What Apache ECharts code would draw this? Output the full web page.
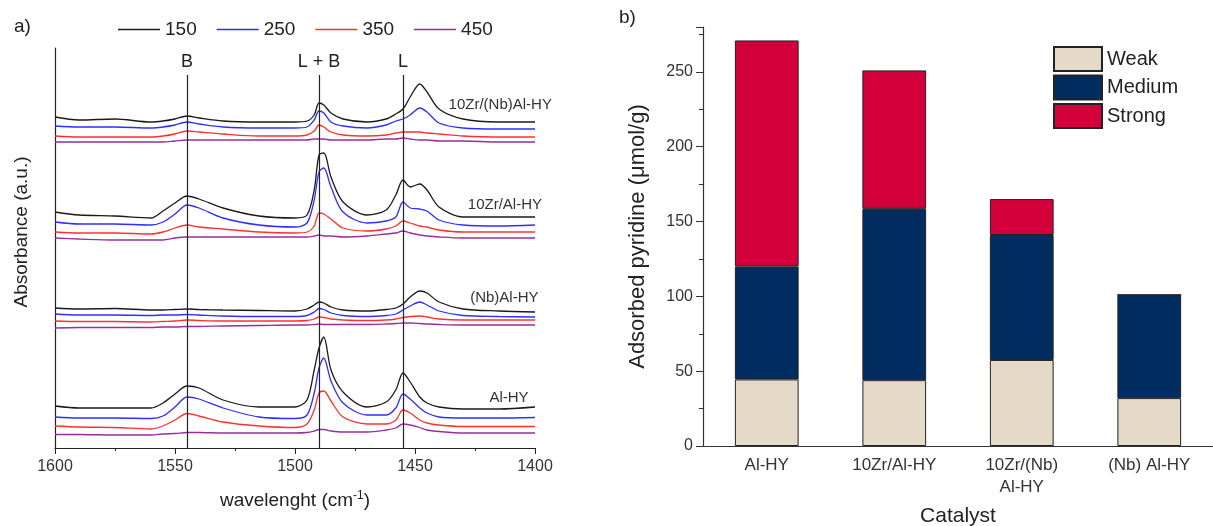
<!DOCTYPE html>
<html>
<head>
<meta charset="utf-8">
<script src="https://cdn.jsdelivr.net/npm/echarts@6/dist/echarts.min.js"></script>
<style>html,body{margin:0;background:#fff}#main{width:1213px;height:526px}</style>
</head>
<body>
<div id="main"></div>
<script>
// wavenumber grid (cm-1) shared by all spectra
var wn = [1600,1590,1575,1560,1555,1550,1545,1540,1530,1515,1500,1495,1492,1490,1488,1485,1480,1470,1462,1458,1455,1452,1448,1445,1440,1430,1415,1400];

// 10Zr/(Nb)Al-HY
var nbzr150 = [331,328,329,326,327,329,332,330,327,326,326,327,333,345,343,335,329,326,329,334,339,351,364,356,339,329,326,326];
var nbzr250 = [322,321,321,320,321,323,326,324,321,320,320,321,328,337,335,326,322,320,323,327,329,333,340,336,325,320,319,319];
var nbzr350 = [312,311,311,311,312,314,317,316,314,312,312,313,317,323,321,316,313,312,313,315,316,316,316,315,314,312,311,311];
var nbzr450 = [306,306,306,306,306,307,308,308,308,308,308,308,309,309,309,308,308,308,309,309,310,309,308,308,307,307,306,306];
// 10Zr/Al-HY
var zr150 = [236,233,232,230,237,245,252,249,240,232,230,233,258,293,295,271,246,233,238,253,268,261,264,258,241,231,231,231];
var zr250 = [226,224,224,223,226,234,243,240,230,223,221,225,248,276,280,261,236,225,227,231,246,240,239,237,228,223,222,223];
var zr350 = [216,215,215,214,216,220,223,221,219,216,215,216,222,235,234,229,220,217,219,222,227,225,222,221,218,216,216,216];
var zr450 = [210,209,208,208,208,210,211,211,211,211,211,211,212,213,212,212,211,212,214,215,217,215,213,212,211,210,210,210];
// (Nb)Al-HY
var nb150 = [140,139,139.5,138,138,138.5,139,138.5,138,137.5,137,139,143,146,145,141,138,137,138.5,140,144,151,157,155,146,139,137,136];
var nb250 = [134,133,133,132.5,133,133,133.5,133,132,131.5,131.5,132.5,136,139.5,138.5,135,132.5,131.5,132.5,134,138,142,146,143,137,132.5,131.5,131];
var nb350 = [127,126.5,126.5,126,126.5,127,128,127.5,127,127,127,127.5,129,131,130.5,129,128,127.5,128,129,130.5,131.5,132,131,129,128,128,128];
var nb450 = [120,120.5,120.5,120.5,121,121,121.5,121.5,122,122.5,123,123,123.5,124,123.5,123.5,123.5,123.5,124,124.5,125,125,124.5,124,123.5,123,123,123];
// Al-HY
var al150 = [42,40,40,40,45,54,62,60,48,41,41,48,78,100,111,78,56,41,46,58,75,66,51,45,41,39,39,41];
var al250 = [31,30,30,29.5,32,41,51,49,40,31,29.5,33,55,80,90,67,45,33,33,40,54,49,40,35,31,30,30,30.5];
var al350 = [22,21,20.5,19,22,28,34.5,32,26,22,20.5,24,38,55,57,47,31,24,24,28,38,35,28,25,23,21.5,21.5,21.5];
var al450 = [13.5,13.5,13,13,14,14.5,15.5,15.5,15,15,15,15.5,17,18.5,18.5,17,16,16,18,20,24,23,20.5,18,16.5,15,15,15];

var temps = ['150', '250', '350', '450'];
var groupNames = ['10Zr/(Nb)Al-HY', '10Zr/Al-HY', '(Nb)Al-HY', 'Al-HY'];
var groupLabelX = [1436, 1428, 1427, 1419];
var groupLabelY = [343, 243, 150, 50];
var bandPos = [1545, 1490, 1455];
var bandNames = ['B', 'L + B', 'L'];

// panel b
var catalysts = ['Al-HY', '10Zr/Al-HY', '10Zr/(Nb)\nAl-HY', '(Nb) Al-HY'];
var weak = [44.5, 44, 57.5, 32];
var medium = [75.5, 114.5, 83.5, 69];
var strong = [151, 92.5, 24, 0];

var groups = [
  [nbzr150, nbzr250, nbzr350, nbzr450],
  [zr150, zr250, zr350, zr450],
  [nb150, nb250, nb350, nb450],
  [al150, al250, al350, al450]
];
var tempColors = ['#1a1a1a', '#2e2eff', '#ff3030', '#992e99'];
var font = 'Liberation Sans, Arial, sans-serif';

var series = [];
groups.forEach(function (lines, gi) {
  lines.forEach(function (vals, ti) {
    var s = {
      name: temps[ti],
      type: 'line',
      xAxisIndex: 0,
      yAxisIndex: 0,
      symbol: 'none',
      smooth: 0.3,
      lineStyle: { width: 1.3, color: tempColors[ti] },
      itemStyle: { color: tempColors[ti] },
      data: wn.map(function (w, i) { return [w, vals[i]]; })
    };
    if (ti === 0) {
      s.markPoint = {
        symbol: 'circle',
        symbolSize: 0,
        label: { show: true, position: 'right', distance: 0, color: '#333', fontSize: 15, fontFamily: font,
          formatter: groupNames[gi] },
        data: [{ coord: [groupLabelX[gi], groupLabelY[gi]] }]
      };
    }
    if (gi === 3 && ti === 3) {
      s.markLine = {
        symbol: 'none',
        silent: true,
        lineStyle: { color: '#222', width: 1.2, type: 'solid' },
        label: { show: true, position: 'end', distance: 4, color: '#222', fontSize: 18, fontFamily: font,
          formatter: function (p) { return p.name; } },
        data: bandPos.map(function (b, i) {
          return [{ name: bandNames[i], coord: [b, 0] }, { coord: [b, 373] }];
        })
      };
    }
    series.push(s);
  });
});

var barColors = ['#e4dac7', '#002c60', '#d3003c'];
[['Weak', weak], ['Medium', medium], ['Strong', strong]].forEach(function (d, i) {
  series.push({
    name: d[0],
    type: 'bar',
    stack: 'acid',
    xAxisIndex: 1,
    yAxisIndex: 1,
    barWidth: '50%',
    itemStyle: { color: barColors[i], borderColor: '#222', borderWidth: 1 },
    data: d[1]
  });
});

var chart = echarts.init(document.getElementById('main'));
chart.setOption({
  animation: false,
  textStyle: { fontFamily: font },
  graphic: [
    { type: 'text', left: 14, top: 17, style: { text: 'a)', fontSize: 19, fill: '#222', fontFamily: font } },
    { type: 'text', left: 619, top: 8, style: { text: 'b)', fontSize: 19, fill: '#222', fontFamily: font } }
  ],
  legend: [
    {
      data: temps,
      left: 113,
      top: 15,
      icon: 'rect',
      itemWidth: 42,
      itemHeight: 1.5,
      itemGap: 20,
      textStyle: { fontSize: 19, color: '#222', fontFamily: font }
    },
    {
      data: ['Weak', 'Medium', 'Strong'],
      orient: 'vertical',
      left: 1048,
      top: 41,
      icon: 'rect',
      itemWidth: 48,
      itemHeight: 24,
      itemGap: 2.5,
      textStyle: { fontSize: 20, color: '#222', fontFamily: font }
    }
  ],
  grid: [
    { left: 55, right: 678, top: 48, bottom: 78, outerBoundsMode: 'none' },
    { left: 703, right: 0, top: 27, bottom: 80, outerBoundsMode: 'none' }
  ],
  xAxis: [
    {
      gridIndex: 0,
      type: 'value',
      inverse: true,
      min: 1400,
      max: 1600,
      interval: 50,
      name: 'wavelenght (cm{sup|-1})',
      nameLocation: 'middle',
      nameGap: 42,
      nameTextStyle: { fontSize: 19, color: '#222', rich: { sup: { fontSize: 12, verticalAlign: 'top', padding: [0, 0, 9, 0], color: '#222' } } },
      axisLine: { lineStyle: { color: '#222', width: 1.2 } },
      axisTick: { length: 6, lineStyle: { color: '#222' } },
      minorTick: { show: true, splitNumber: 2, length: 3, lineStyle: { color: '#222' } },
      axisLabel: { fontSize: 16, color: '#333', margin: 11, formatter: function (v) { return String(v); } },
      splitLine: { show: false }
    },
    {
      gridIndex: 1,
      type: 'category',
      data: catalysts,
      name: 'Catalyst',
      nameLocation: 'middle',
      nameGap: 60,
      nameTextStyle: { fontSize: 21, color: '#222' },
      axisLine: { lineStyle: { color: '#333', width: 1.2 } },
      axisTick: { length: 9, lineStyle: { color: '#333' } },
      axisLabel: { fontSize: 17, color: '#333', margin: 8, lineHeight: 22 }
    }
  ],
  yAxis: [
    {
      gridIndex: 0,
      type: 'value',
      min: 0,
      max: 400,
      name: 'Absorbance (a.u.)',
      nameLocation: 'middle',
      nameGap: 24,
      nameTextStyle: { fontSize: 19, color: '#222', padding: [0, 0, 0, 32] },
      axisLine: { show: true, lineStyle: { color: '#222', width: 1.2 } },
      axisTick: { show: false },
      axisLabel: { show: false },
      splitLine: { show: false }
    },
    {
      gridIndex: 1,
      type: 'value',
      min: 0,
      max: 280,
      interval: 50,
      name: 'Adsorbed pyridine (\u03bcmol/g)',
      nameLocation: 'middle',
      nameGap: 54,
      nameTextStyle: { fontSize: 22, color: '#222' },
      axisLine: { show: true, lineStyle: { color: '#333', width: 1.2 } },
      axisTick: { show: true, length: 7, lineStyle: { color: '#333' } },
      minorTick: { show: true, splitNumber: 2, length: 4, lineStyle: { color: '#333' } },
      axisLabel: { fontSize: 16, color: '#333', margin: 10, showMaxLabel: false },
      splitLine: { show: false }
    }
  ],
  series: series
});
</script>
</body>
</html>
